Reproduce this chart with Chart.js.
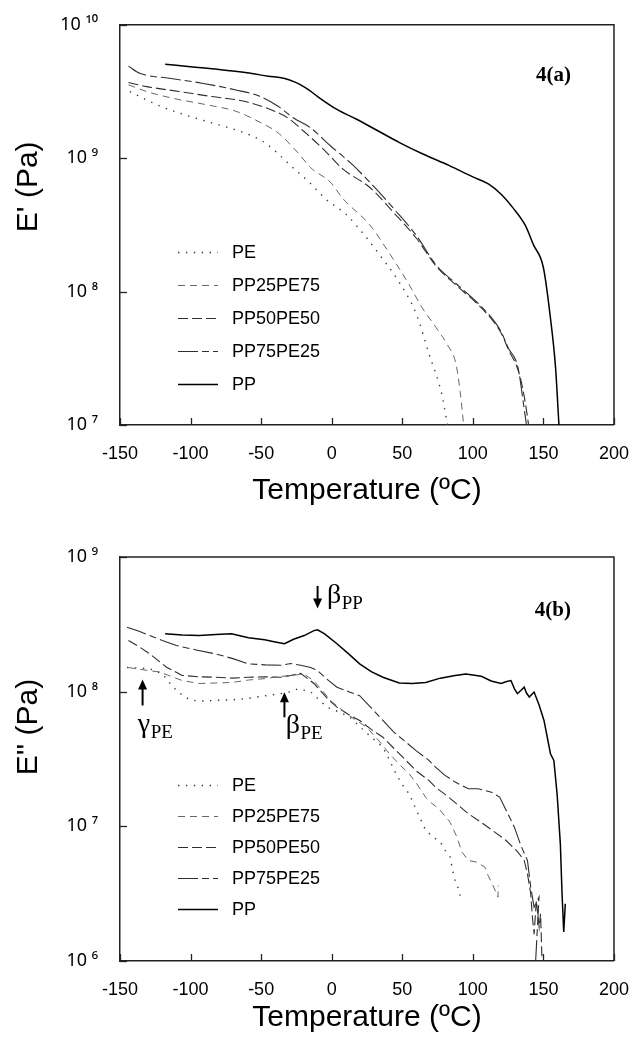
<!DOCTYPE html>
<html>
<head>
<meta charset="utf-8">
<script src="https://cdn.jsdelivr.net/npm/chart.js@4/dist/chart.umd.min.js"></script>
<style>
  html, body { margin: 0; padding: 0; background: #fff; }
  .panel { position: absolute; left: 0; width: 639px; }
</style>
</head>
<body>
<div class="panel" style="top:0;height:520px"><canvas id="chartA" width="639" height="520"></canvas></div>
<div class="panel" style="top:520px;height:519px"><canvas id="chartB" width="639" height="519"></canvas></div>
<script>
// ---------- DATA: panel 4(a), storage modulus E' (Pa) ----------
const seriesNames = ['PE', 'PP25PE75', 'PP50PE50', 'PP75PE25', 'PP'];
const xTicks = [-150, -100, -50, 0, 50, 100, 150, 200];
const yTicksA = [1e7, 1e8, 1e9, 1e10];
const yTicksB = [1e6, 1e7, 1e8, 1e9];

const tPE_a = [-143, -124, -108, -85, -62, -47.5, -35, -29, -16, -4.5, 10, 25, 35, 46, 60, 69, 78, 82];
const ePE_a = [3.16e9, 2.52e9, 2.18e9, 1.84e9, 1.55e9, 1.31e9, 1.01e9, 8.79e8, 6.61e8, 4.97e8, 3.80e8, 2.51e8, 1.82e8, 1.26e8, 6.76e7, 3.39e7, 1.70e7, 1.0e7];

const tP25_a = [-144, -131, -113, -89, -68, -50, -38, -24, -15, -1, 8, 27, 40, 55, 64, 74, 82, 88, 91, 93.5];
const eP25_a = [3.55e9, 3.16e9, 2.82e9, 2.52e9, 2.25e9, 1.84e9, 1.55e9, 1.10e9, 8.51e8, 6.61e8, 4.97e8, 3.16e8, 2.0e8, 1.12e8, 7.59e7, 5.37e7, 3.98e7, 2.88e7, 1.78e7, 1.0e7];

const tP50_a = [-144, -131, -108, -85, -62, -43, -31, -20, -6, 8, 27, 45, 60, 74, 88, 102, 115, 120, 125, 133, 137, 139.5];
const eP50_a = [3.69e9, 3.44e9, 3.16e9, 2.90e9, 2.67e9, 2.31e9, 2.00e9, 1.60e9, 1.17e9, 8.28e8, 6.03e8, 3.80e8, 2.51e8, 1.55e8, 1.12e8, 8.32e7, 5.89e7, 4.90e7, 3.72e7, 2.40e7, 1.51e7, 1.0e7];

const tP75_a = [-144, -136, -115, -92, -68, -52, -38, -27, -15, -1, 13, 27, 45, 60, 74, 88, 102, 115, 120, 125, 132, 136, 138];
const eP75_a = [4.90e9, 4.33e9, 3.97e9, 3.65e9, 3.25e9, 2.94e9, 2.45e9, 2.00e9, 1.69e9, 1.24e9, 9.29e8, 6.61e8, 4.07e8, 2.63e8, 1.58e8, 1.15e8, 8.51e7, 6.03e7, 5.01e7, 3.80e7, 2.69e7, 1.41e7, 1.0e7];

const tPP_a = [-118, -100, -80, -60, -45, -34, -26, -22, -16, -10, 4, 18, 32, 48, 65, 83, 100, 111, 120, 129, 137, 143, 150, 155, 158.6, 161];
const ePP_a = [5.07e9, 4.85e9, 4.63e9, 4.37e9, 4.12e9, 3.97e9, 3.72e9, 3.55e9, 3.24e9, 2.90e9, 2.31e9, 1.95e9, 1.62e9, 1.31e9, 1.07e9, 8.83e8, 7.24e8, 6.41e8, 5.37e8, 4.17e8, 3.16e8, 2.24e8, 1.51e8, 6.31e7, 2.69e7, 1.0e7];

// ---------- DATA: panel 4(b), loss modulus E'' (Pa) ----------
const tPE_b = [-145, -137, -129, -120, -115, -110, -104, -99, -90, -82.5, -70, -59, -47, -36, -29, -24, -15, -8, -3.3, 5, 12.9, 24, 36.3, 41, 45.6, 50, 54.9, 60, 66.6, 72, 77, 80.5, 84, 85.2, 87, 89.8, 91.7];
const ePE_b = [1.51e8, 1.50e8, 1.48e8, 1.36e8, 1.17e8, 1.02e8, 9.12e7, 8.61e7, 8.51e7, 8.61e7, 8.71e7, 8.91e7, 9.33e7, 9.68e7, 1.0e8, 1.05e8, 1.0e8, 8.51e7, 7.67e7, 7.08e7, 6.46e7, 5.01e7, 3.87e7, 3.09e7, 2.45e7, 2.04e7, 1.74e7, 1.32e7, 9.33e6, 8.32e6, 7.64e6, 6.61e6, 5.90e6, 4.98e6, 4.07e6, 3.44e6, 2.82e6];

const tP25_b = [-144, -133, -122, -106, -94, -82, -71, -59, -47.5, -38, -29, -19.5, -12.6, -6, -1, 10, 24.6, 33, 40.9, 48, 54.9, 60, 66.6, 71, 75.9, 84, 88.7, 92.2, 96.8, 102.7, 108.5, 110.8, 114.3, 117.8, 118];
const eP25_b = [1.51e8, 1.45e8, 1.40e8, 1.21e8, 1.15e8, 1.16e8, 1.17e8, 1.22e8, 1.25e8, 1.29e8, 1.32e8, 1.35e8, 1.20e8, 1.0e8, 8.61e7, 6.92e7, 5.45e7, 4.37e7, 3.46e7, 2.88e7, 2.45e7, 2.09e7, 1.64e7, 1.48e7, 1.35e7, 1.07e7, 8.32e6, 6.46e6, 5.58e6, 5.42e6, 4.98e6, 4.32e6, 3.63e6, 2.98e6, 3.63e6];

const tP50_b = [-144, -136, -129, -117, -106, -94, -82.5, -70, -59, -47, -36, -29, -22, -12.6, -10.3, -3, 3.7, 12, 19.8, 28, 36.3, 44, 52.6, 60, 68.9, 73.6, 82.8, 96.8, 106, 115.5, 123.6, 131.8, 136.4, 138.7, 141, 142.2, 143.4, 145, 147, 148, 149];
const eP50_b = [2.40e8, 2.14e8, 1.91e8, 1.52e8, 1.32e8, 1.29e8, 1.28e8, 1.26e8, 1.28e8, 1.29e8, 1.28e8, 1.32e8, 1.37e8, 1.15e8, 1.08e8, 8.91e7, 7.67e7, 6.76e7, 6.11e7, 5.25e7, 4.59e7, 3.80e7, 3.09e7, 2.57e7, 2.19e7, 1.95e7, 1.65e7, 1.24e7, 1.07e7, 9.06e6, 7.85e6, 6.46e6, 5.58e6, 4.45e6, 3.16e6, 2.12e6, 1.58e6, 2.82e6, 1.78e6, 2.24e6, 1.0e6];

const tP75_b = [-145, -137, -129, -120, -110, -96, -82.5, -70, -59, -47, -36, -29, -22, -15, -10.3, -3, 3.7, 12, 19.8, 28, 36.3, 44, 52.6, 60, 68.9, 73.6, 80, 87.5, 96.8, 103.8, 113.2, 119, 124.8, 129.4, 134, 138.7, 141, 143.4, 146.9, 146, 144.5];
const eP75_b = [3.01e8, 2.82e8, 2.61e8, 2.40e8, 2.20e8, 2.04e8, 1.91e8, 1.76e8, 1.61e8, 1.58e8, 1.57e8, 1.62e8, 1.57e8, 1.51e8, 1.44e8, 1.23e8, 1.08e8, 1.0e8, 9.33e7, 7.59e7, 6.11e7, 5.01e7, 4.22e7, 3.63e7, 3.09e7, 2.75e7, 2.40e7, 2.13e7, 1.90e7, 1.90e7, 1.79e7, 1.65e7, 1.24e7, 9.86e6, 7.21e6, 5.58e6, 3.54e6, 2.51e6, 2.98e6, 2.0e6, 1.0e6];

const tPP_b = [-118, -106, -94, -82, -71, -59, -47.5, -40, -33.5, -27, -19.5, -12.6, -10, -5, 3.7, 12, 19.8, 28, 36.3, 47.8, 57, 66.6, 77, 87.5, 95, 106, 113, 120, 124, 127, 129.5, 131.6, 134, 136.4, 138, 140, 143.4, 147, 150.4, 155, 157.4, 159.7, 162, 163.2, 164.4, 165.5];
const ePP_b = [2.69e8, 2.63e8, 2.61e8, 2.66e8, 2.69e8, 2.51e8, 2.43e8, 2.34e8, 2.27e8, 2.45e8, 2.61e8, 2.84e8, 2.88e8, 2.69e8, 2.27e8, 1.91e8, 1.61e8, 1.41e8, 1.28e8, 1.16e8, 1.15e8, 1.17e8, 1.26e8, 1.32e8, 1.35e8, 1.30e8, 1.20e8, 1.15e8, 1.19e8, 1.21e8, 1.05e8, 9.68e7, 1.02e8, 1.08e8, 9.77e7, 9.12e7, 9.93e7, 7.94e7, 6.11e7, 3.46e7, 3.09e7, 1.74e7, 7.41e6, 3.16e6, 1.64e6, 2.66e6];

// relaxation annotations in panel (b): arrow (temperature, tail value, head value), label anchor
const arrowsB = [
  { t: -134, from: 7.9e7, to: 1.23e8 },
  { t: -33.5, from: 6.45e7, to: 9.9e7 },
  { t: -10, from: 6.1e8, to: 4.15e8 }
];
const labelsB = [
  { t: -137.4, v: 4.98e7, main: 'γ', sub: 'PE' },
  { t: -32.6, v: 4.90e7, main: 'β', sub: 'PE' },
  { t: -3.3, v: 4.59e8, main: 'β', sub: 'PP' }
];

// ---------- styles ----------
const SANS = "'Liberation Sans', Arial, Helvetica, sans-serif";
const TICKFONT = "'Noto Sans', 'DejaVu Sans', sans-serif";
const SERIF = "'Liberation Serif', 'Times New Roman', serif";
const STYLE = {
  'PE':       { color: '#3a3a3a', width: 1.4, dash: [1.4, 6.5] },
  'PP25PE75': { color: '#666666', width: 1.0, dash: [7, 5] },
  'PP50PE50': { color: '#2e2e2e', width: 1.1, dash: [10, 4] },
  'PP75PE25': { color: '#2e2e2e', width: 1.1, dash: [20, 4, 7, 4] },
  'PP':       { color: '#000000', width: 1.5, dash: [] }
};

const SUP = { '0': '⁰', '1': '¹', '2': '²', '3': '³', '4': '⁴', '5': '⁵', '6': '⁶', '7': '⁷', '8': '⁸', '9': '⁹', '-': '⁻' };
function decadeLabel(v) {
  const e = Math.round(Math.log10(v));
  return '10 ' + String(e).split('').map(c => SUP[c]).join('');
}

// ---------- decoration plugin: frame, inner ticks, y title, legend, panel label, annotations ----------
const decor = {
  id: 'decor',
  afterDraw(chart, args, o) {
    const { ctx, chartArea: a, scales: { x, y } } = chart;
    ctx.save();
    // frame (top and right)
    ctx.strokeStyle = '#222';
    ctx.lineWidth = 1.5;
    ctx.setLineDash([]);
    ctx.beginPath();
    ctx.moveTo(a.left, a.top);
    ctx.lineTo(a.right, a.top);
    ctx.lineTo(a.right, a.bottom);
    ctx.stroke();
    // inside tick marks
    ctx.lineWidth = 1.3;
    x.ticks.forEach((t, i) => {
      const px = Math.round(x.getPixelForTick(i)) + 0.5;
      ctx.beginPath(); ctx.moveTo(px, a.bottom); ctx.lineTo(px, a.bottom - 7); ctx.stroke();
    });
    y.ticks.forEach((t, i) => {
      const py = Math.round(y.getPixelForTick(i)) + 0.5;
      ctx.beginPath(); ctx.moveTo(a.left, py); ctx.lineTo(a.left + 7, py); ctx.stroke();
    });
    // y axis title
    ctx.save();
    ctx.translate(o.yTitleX, a.top + o.yTitleDY);
    ctx.rotate(-Math.PI / 2);
    ctx.fillStyle = '#000';
    ctx.font = '30px ' + SANS;
    ctx.textAlign = 'center';
    ctx.textBaseline = 'middle';
    ctx.fillText(o.yTitle, 0, 0);
    ctx.restore();
    // legend
    ctx.font = '18px ' + SANS;
    ctx.textAlign = 'left';
    ctx.textBaseline = 'middle';
    chart.data.datasets.forEach((ds, i) => {
      const ly = Math.round(a.top + o.legDY + o.legStep * i) + 0.5;
      ctx.strokeStyle = ds.borderColor;
      ctx.lineWidth = ds.borderWidth;
      ctx.setLineDash(ds.borderDash || []);
      ctx.beginPath(); ctx.moveTo(a.left + 58, ly); ctx.lineTo(a.left + 98, ly); ctx.stroke();
      ctx.setLineDash([]);
      ctx.fillStyle = '#000';
      ctx.fillText(ds.label, a.left + 112, ly + 1);
    });
    // panel label
    ctx.font = 'bold 21px ' + SERIF;
    ctx.textAlign = 'right';
    ctx.fillStyle = '#000';
    ctx.fillText(o.panel, a.right - 43, a.top + o.panelDY);
    // arrows
    (o.arrows || []).forEach(ar => {
      const px = x.getPixelForValue(ar.t);
      const y0 = y.getPixelForValue(ar.from);
      const y1 = y.getPixelForValue(ar.to);
      const dir = y1 < y0 ? -1 : 1;
      ctx.strokeStyle = '#000';
      ctx.lineWidth = 2;
      ctx.beginPath(); ctx.moveTo(px, y0); ctx.lineTo(px, y1 - dir * 8); ctx.stroke();
      ctx.fillStyle = '#000';
      ctx.beginPath();
      ctx.moveTo(px, y1);
      ctx.lineTo(px - 4.5, y1 - dir * 10);
      ctx.lineTo(px + 4.5, y1 - dir * 10);
      ctx.closePath();
      ctx.fill();
    });
    // annotation labels with subscripts
    (o.labels || []).forEach(lb => {
      const px = x.getPixelForValue(lb.t);
      const py = y.getPixelForValue(lb.v);
      ctx.fillStyle = '#000';
      ctx.textAlign = 'left';
      ctx.textBaseline = 'alphabetic';
      ctx.font = '28px ' + SERIF;
      ctx.fillText(lb.main, px, py);
      const w = ctx.measureText(lb.main).width;
      ctx.font = '19px ' + SERIF;
      ctx.fillText(lb.sub, px + w + 0.5, py + 6);
    });
    ctx.restore();
  }
};

function buildChart(id, p) {
  return new Chart(document.getElementById(id), {
    type: 'line',
    data: {
      datasets: p.series.map(s => ({
        label: s.name,
        data: s.t.map((t, i) => ({ x: t, y: s.v[i] })),
        borderColor: STYLE[s.name].color,
        borderWidth: STYLE[s.name].width,
        borderDash: STYLE[s.name].dash,
        borderCapStyle: 'butt',
        pointRadius: 0,
        fill: false,
        cubicInterpolationMode: p.smooth ? 'monotone' : 'default',
        tension: p.smooth ? 0.4 : 0
      }))
    },
    options: {
      responsive: false,
      animation: false,
      devicePixelRatio: 1,
      layout: { padding: { top: p.padTop, right: 18, left: 0, bottom: 0 } },
      plugins: {
        legend: { display: false },
        tooltip: { enabled: false },
        decor: p.decor
      },
      scales: {
        x: {
          type: 'linear',
          min: xTicks[0],
          max: xTicks[xTicks.length - 1],
          afterBuildTicks: s => { s.ticks = xTicks.map(v => ({ value: v })); },
          ticks: { font: { family: SANS, size: 18 }, color: '#000', padding: 10, maxRotation: 0, autoSkip: false },
          grid: { display: false },
          border: { display: true, color: '#222', width: 1.5 },
          title: {
            display: true,
            text: 'Temperature (ºC)',
            color: '#000',
            font: { family: SANS, size: 30 },
            padding: { top: 0, bottom: p.xTitlePad }
          },
          afterFit: s => { s.height = p.xAxisH; }
        },
        y: {
          type: 'logarithmic',
          min: p.yTicks[0],
          max: p.yTicks[p.yTicks.length - 1],
          afterBuildTicks: s => { s.ticks = p.yTicks.map(v => ({ value: v })); },
          ticks: { callback: decadeLabel, font: { family: TICKFONT, size: 18 }, color: '#000', padding: 14, autoSkip: false },
          grid: { display: false },
          border: { display: true, color: '#222', width: 1.5 },
          afterFit: s => { s.width = 120; }
        }
      }
    },
    plugins: [decor]
  });
}

buildChart('chartA', {
  series: [
    { name: seriesNames[0], t: tPE_a, v: ePE_a },
    { name: seriesNames[1], t: tP25_a, v: eP25_a },
    { name: seriesNames[2], t: tP50_a, v: eP50_a },
    { name: seriesNames[3], t: tP75_a, v: eP75_a },
    { name: seriesNames[4], t: tPP_a, v: ePP_a }
  ],
  yTicks: yTicksA,
  smooth: true,
  padTop: 21,
  xAxisH: 95,
  xTitlePad: 11,
  decor: { yTitle: "E' (Pa)", yTitleX: 29, yTitleDY: 162, legDY: 227, legStep: 33, panel: '4(a)', panelDY: 51 }
});

buildChart('chartB', {
  series: [
    { name: seriesNames[0], t: tPE_b, v: ePE_b },
    { name: seriesNames[1], t: tP25_b, v: eP25_b },
    { name: seriesNames[2], t: tP50_b, v: eP50_b },
    { name: seriesNames[3], t: tP75_b, v: eP75_b },
    { name: seriesNames[4], t: tPP_b, v: ePP_b }
  ],
  yTicks: yTicksB,
  smooth: false,
  padTop: 37,
  xAxisH: 78,
  xTitlePad: 3,
  decor: { yTitle: "E'' (Pa)", yTitleX: 29, yTitleDY: 170, legDY: 228, legStep: 31, panel: '4(b)', panelDY: 54, arrows: arrowsB, labels: labelsB }
});
</script>
</body>
</html>
